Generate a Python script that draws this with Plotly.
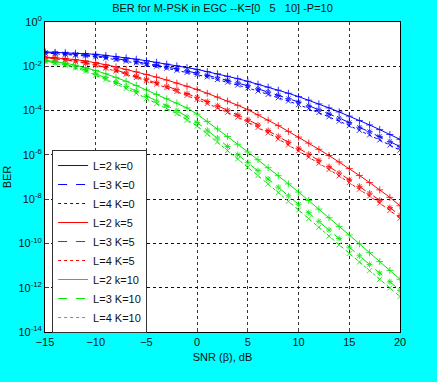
import numpy as np
import plotly.graph_objects as go

snr_db = list(range(-15, 21))

# log10(BER), one value per dB from -15 to 20
log_ber_L2_K0 = [-1.35, -1.37, -1.39, -1.41, -1.43, -1.46, -1.51, -1.56, -1.62, -1.68, -1.75, -1.82,
                 -1.90, -1.98, -2.06, -2.14, -2.24, -2.34, -2.45, -2.56, -2.68, -2.81, -2.94, -3.08,
                 -3.22, -3.37, -3.53, -3.70, -3.88, -4.06, -4.25, -4.45, -4.65, -4.86, -5.08, -5.30]
log_ber_L3_K0 = [-1.38, -1.41, -1.44, -1.47, -1.49, -1.53, -1.59, -1.65, -1.72, -1.79, -1.87, -1.94,
                 -2.03, -2.12, -2.21, -2.30, -2.41, -2.52, -2.63, -2.75, -2.88, -3.02, -3.16, -3.31,
                 -3.46, -3.61, -3.78, -3.96, -4.15, -4.34, -4.54, -4.75, -4.95, -5.17, -5.40, -5.63]
log_ber_L4_K0 = [-1.40, -1.43, -1.46, -1.50, -1.53, -1.57, -1.63, -1.70, -1.77, -1.84, -1.92, -2.00,
                 -2.09, -2.18, -2.28, -2.37, -2.48, -2.60, -2.72, -2.85, -2.98, -3.12, -3.27, -3.42,
                 -3.57, -3.73, -3.91, -4.09, -4.28, -4.48, -4.68, -4.89, -5.10, -5.33, -5.56, -5.79]
log_ber_L2_K5 = [-1.58, -1.61, -1.65, -1.70, -1.76, -1.83, -1.93, -2.03, -2.14, -2.25, -2.37, -2.49,
                 -2.62, -2.76, -2.90, -3.05, -3.22, -3.39, -3.57, -3.76, -3.96, -4.19, -4.43, -4.68,
                 -4.94, -5.20, -5.47, -5.75, -6.03, -6.32, -6.62, -6.93, -7.25, -7.58, -7.92, -8.30]
log_ber_L3_K5 = [-1.61, -1.65, -1.70, -1.76, -1.84, -1.93, -2.05, -2.17, -2.31, -2.45, -2.59, -2.74,
                 -2.90, -3.06, -3.23, -3.40, -3.59, -3.78, -3.98, -4.19, -4.41, -4.65, -4.90, -5.16,
                 -5.43, -5.70, -5.97, -6.25, -6.53, -6.82, -7.12, -7.42, -7.73, -8.05, -8.38, -8.74]
log_ber_L4_K5 = [-1.62, -1.66, -1.72, -1.78, -1.87, -1.96, -2.09, -2.21, -2.36, -2.51, -2.65, -2.81,
                 -2.97, -3.14, -3.31, -3.49, -3.68, -3.88, -4.08, -4.30, -4.52, -4.76, -5.01, -5.28,
                 -5.55, -5.82, -6.10, -6.38, -6.66, -6.95, -7.25, -7.55, -7.86, -8.18, -8.51, -8.86]
log_ber_L2_K10 = [-1.72, -1.78, -1.86, -1.95, -2.06, -2.19, -2.34, -2.50, -2.68, -2.87, -3.07, -3.27,
                  -3.47, -3.66, -3.88, -4.16, -4.49, -4.83, -5.17, -5.52, -5.87, -6.22, -6.58, -6.94,
                  -7.31, -7.68, -8.06, -8.45, -8.84, -9.23, -9.62, -10.02, -10.42, -10.82, -11.22, -11.62]
log_ber_L3_K10 = [-1.76, -1.83, -1.92, -2.03, -2.16, -2.34, -2.52, -2.71, -2.91, -3.12, -3.35, -3.57,
                  -3.78, -4.00, -4.29, -4.54, -4.89, -5.24, -5.62, -5.99, -6.35, -6.71, -7.09, -7.46,
                  -7.85, -8.23, -8.61, -9.00, -9.39, -9.78, -10.17, -10.56, -10.95, -11.34, -11.73, -12.12]
log_ber_L4_K10 = [-1.78, -1.86, -1.96, -2.08, -2.22, -2.40, -2.59, -2.79, -3.00, -3.22, -3.46, -3.69,
                  -3.91, -4.14, -4.44, -4.70, -5.06, -5.42, -5.81, -6.19, -6.56, -6.93, -7.32, -7.70,
                  -8.10, -8.49, -8.88, -9.27, -9.67, -10.06, -10.45, -10.84, -11.23, -11.62, -12.01, -12.40]

series_names = ["L=2 k=0", "L=3 K=0", "L=4 K=0",
                "L=2 k=5", "L=3 K=5", "L=4 K=5",
                "L=2 k=10", "L=3 K=10", "L=4 K=10"]
series_values = [log_ber_L2_K0, log_ber_L3_K0, log_ber_L4_K0,
                 log_ber_L2_K5, log_ber_L3_K5, log_ber_L4_K5,
                 log_ber_L2_K10, log_ber_L3_K10, log_ber_L4_K10]

y_tick_exponents = [0, -2, -4, -6, -8, -10, -12, -14]
x_ticks = [-15, -10, -5, 0, 5, 10, 15, 20]

colors = ["#0000ff", "#ff0000", "#00e600"]
dashes = ["solid", "dash", "dot"]
symbols = ["cross-thin-open", "asterisk-open", "x-thin-open"]

FONT = "Liberation Sans Narrow, Arial Narrow, Liberation Sans, Arial, sans-serif"

fig = go.Figure()
for i, (name, vals) in enumerate(zip(series_names, series_values)):
    c = colors[i // 3]
    d = dashes[i % 3]
    ber = np.power(10.0, np.array(vals))
    fig.add_trace(go.Scatter(x=snr_db, y=ber, mode="markers", showlegend=False,
                             marker=dict(symbol=symbols[i % 3], size=5, color=c,
                                         line=dict(color=c, width=1)),
                             opacity=0.8, hoverinfo="skip"))
    fig.add_trace(go.Scatter(x=snr_db, y=ber, mode="lines", name=name,
                             line=dict(color=c, width=1, dash=d)))

fig.update_layout(
    width=437, height=382,
    paper_bgcolor="#00ffff", plot_bgcolor="#ffffff",
    margin=dict(l=45, r=37, t=22, b=50, autoexpand=False),
    font=dict(family=FONT, size=11, color="#111111"),
    title=dict(text="BER for M-PSK in EGC --K=[0\u00a0\u00a0\u00a05\u00a0\u00a0\u00a010] -P=10",
               x=0.5, xref="paper", xanchor="center",
               y=1 - 8 / 382, yref="container", yanchor="middle",
               font=dict(family=FONT, size=11, color="#111111")),
    legend=dict(x=0.02, y=0.587, xanchor="left", yanchor="top",
                bgcolor="#ffffff", bordercolor="#333333", borderwidth=1,
                font=dict(family=FONT, size=11, color="#111111"),
                tracegroupgap=0),
)
fig.update_xaxes(range=[-15, 20], tickvals=x_ticks, ticks="inside", ticklen=4,
                 automargin=False,
                 showline=True, linecolor="#000000", linewidth=1, mirror=True,
                 showgrid=True, gridcolor="#333333", griddash="3px,3px", gridwidth=1,
                 zeroline=False,
                 title=dict(text="SNR (\u03b2), dB", standoff=6,
                            font=dict(family=FONT, size=11)))
fig.update_yaxes(type="log", range=[-14, 0],
                 tickvals=[10.0 ** e for e in y_tick_exponents],
                 ticktext=["10<sup>%d</sup>" % e for e in y_tick_exponents],
                 ticks="inside", ticklen=4, automargin=False,
                 showline=True, linecolor="#000000", linewidth=1, mirror=True,
                 showgrid=True, gridcolor="#111111", griddash="3px,3px", gridwidth=1,
                 zeroline=False,
                 title=dict(text="BER", standoff=4, font=dict(family=FONT, size=11)))

fig.write_html("out.html", config={"displayModeBar": False},
               post_script="document.body.style.margin='0px';document.body.style.padding='0px';")
